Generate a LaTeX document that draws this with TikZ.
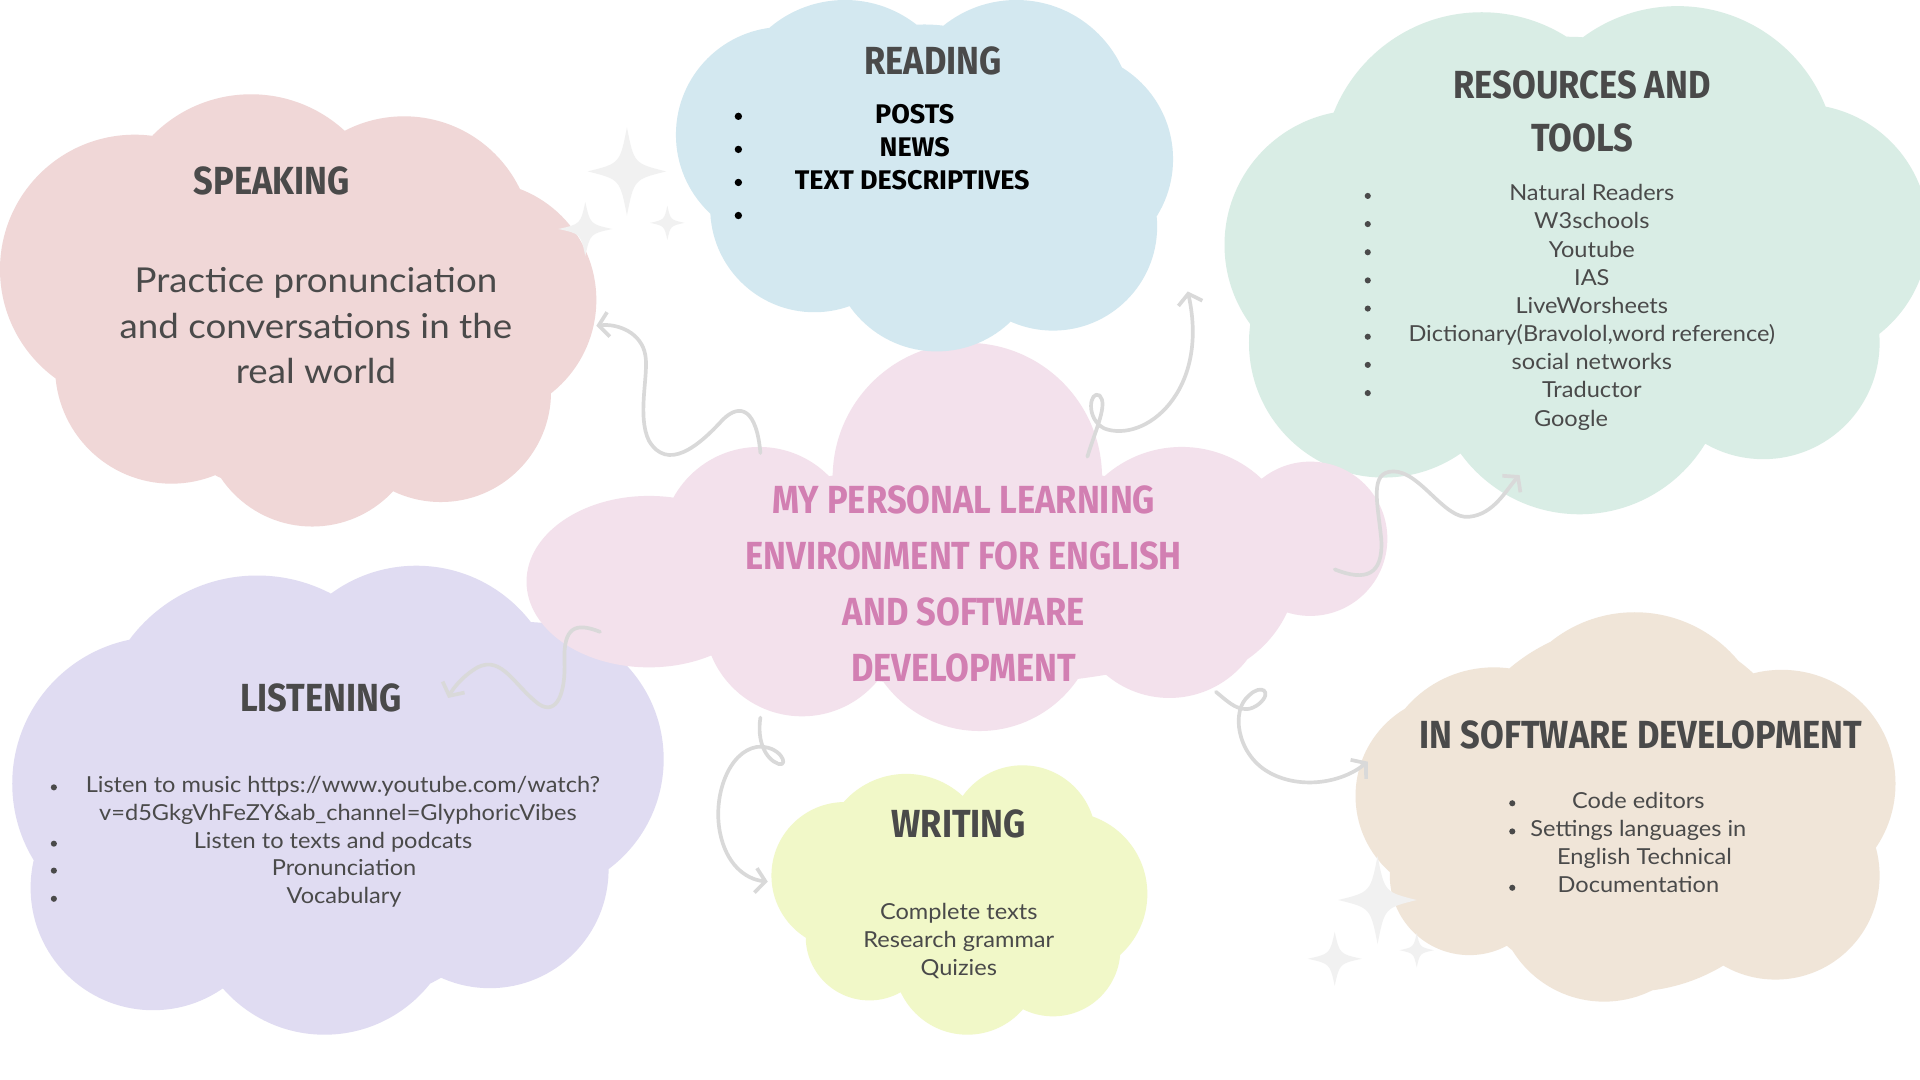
\documentclass[tikz,border=0pt]{standalone}
\usepackage{fontspec}
\setmainfont{Lato}
\newfontfamily\titlefont{Fira Sans}[FakeStretch=0.88]
\newfontfamily\itemfont{Fira Sans}
\newfontfamily\bodyfont{Lato}[FakeStretch=1.07]
\usetikzlibrary{arrows.meta}
\definecolor{speakc}{HTML}{F0D7D7}
\definecolor{readc}{HTML}{D3E8F0}
\definecolor{resc}{HTML}{D9EDE5}
\definecolor{centc}{HTML}{F3E1EC}
\definecolor{listc}{HTML}{E0DCF2}
\definecolor{writec}{HTML}{F1F8C8}
\definecolor{softc}{HTML}{F0E5D8}
\definecolor{centtxt}{HTML}{D27FB2}
\definecolor{txtgray}{HTML}{4A4A4A}
\definecolor{conngray}{HTML}{D9D9D9}
\definecolor{sparkc}{HTML}{F1F1F1}
\tikzset{
  ttl/.style={font=\titlefont\bfseries\fontsize{32}{44}\selectfont, text=txtgray, inner sep=0pt, align=center},
  centttl/.style={ttl, text=centtxt, font=\titlefont\bfseries\fontsize{32}{45.7}\selectfont},
  rditem/.style={font=\itemfont\bfseries\fontsize{22}{27}\selectfont, text=black, inner sep=0pt},
  body/.style={font=\bodyfont\fontsize{18}{23}\selectfont, text=txtgray, inner sep=0pt, text height=12pt, text depth=0pt},
  bigbody/.style={font=\bodyfont\fontsize{28}{37}\selectfont, text=txtgray, inner sep=0pt, align=center},
  bul/.style={circle, fill=txtgray, inner sep=0pt, minimum size=5pt},
  rdbul/.style={circle, fill=black, inner sep=0pt, minimum size=6pt},
  conn/.style={draw=conngray, line width=3pt, line cap=round, line join=round, -{Straight Barb[length=8pt,width=20pt]}},
  sparkle/.pic={\fill[sparkc] (0,-1) .. controls (0.18,-0.18) .. (1,0) .. controls (0.18,0.18) .. (0,1) .. controls (-0.18,0.18) .. (-1,0) .. controls (-0.18,-0.18) .. (0,-1) -- cycle;}
}
\begin{document}
\begin{tikzpicture}[x=1pt,y=-1pt]
\useasboundingbox (0,0) rectangle (1568,882);
\clip (0,0) rectangle (1568,882);
\fill[white] (0,0) rectangle (1568,882);

% resources cloud
\fill[resc] (1210,140) circle (130pt) (1370,135) circle (130pt) (1470,190) circle (105pt)
  (1440,280) circle (95pt) (1290,300) circle (120pt) (1130,280) circle (110pt)
  (1110,200) circle (110pt) (1280,210) circle (180pt);
% listening cloud
\fill[listc] (210,600) circle (130pt) (340,580) circle (118pt) (430,620) circle (112pt)
  (400,710) circle (97pt) (265,735) circle (110pt) (125,725) circle (100pt)
  (130,640) circle (120pt) (280,660) circle (160pt);
% speaking cloud
\fill[speakc] (205,190) circle (113pt) (330,200) circle (105pt) (390,245) circle (97pt)
  (360,320) circle (90pt) (255,340) circle (90pt) (140,300) circle (95pt)
  (110,220) circle (110pt) (245,255) circle (150pt);
% center cloud
\fill[centc] (790,390) circle (110pt) (965,460) circle (95pt) (1070,440) circle (63pt)
  (955,490) circle (80pt) (800,500) circle (97pt) (655,505) circle (80pt)
  (530,475) ellipse (100pt and 70pt) (620,445) circle (80pt) (790,470) ellipse (260pt and 90pt);
% reading cloud
\fill[readc] (690,95) circle (95pt) (830,95) circle (95pt) (870,130) circle (88pt)
  (860,185) circle (85pt) (765,200) circle (87pt) (665,170) circle (85pt)
  (640,110) circle (88pt) (755,140) circle (120pt);
% writing cloud
\fill[writec] (740,700) circle (68pt) (835,685) circle (60pt) (870,730) circle (67pt)
  (860,775) circle (55pt) (790,785) circle (60pt) (710,765) circle (52pt)
  (690,715) circle (60pt) (780,735) circle (85pt);
% software cloud
\fill[softc] (1335,610) circle (110pt) (1220,640) circle (95pt) (1455,640) circle (93pt)
  (1450,715) circle (85pt) (1310,730) circle (88pt) (1200,715) circle (65pt)
  (1190,650) circle (83pt) (1330,660) circle (150pt);

% sparkles
\pic[xscale=32,yscale=36] at (512,140) {sparkle};
\pic[scale=22] at (478,187) {sparkle};
\pic[scale=14] at (545,182) {sparkle};
\pic[xscale=32,yscale=36] at (1125,735) {sparkle};
\pic[scale=22] at (1090,783) {sparkle};
\pic[scale=14] at (1157,776) {sparkle};

% connectors
\coordinate (a1s) at (621,370); \coordinate (a1e) at (487,266);
\draw[conn] (a1s) .. controls (618,335) and (605,328) .. (590,343)
  .. controls (570,365) and (545,385) .. (530,360)
  .. controls (520,340) and (530,305) .. (527,290)
  .. controls (524,272) and (505,264) .. (a1e);
\coordinate (a2s) at (888,373); \coordinate (a2e) at (970,238);
\draw[conn] (a2s) .. controls (895,350) and (905,330) .. (898,323)
  .. controls (890,318) and (886,342) .. (902,350)
  .. controls (935,362) and (988,320) .. (a2e);
\coordinate (a3s) at (1090,465); \coordinate (a3e) at (1241,388);
\draw[conn] (a3s) .. controls (1115,475) and (1130,470) .. (1128,440)
  .. controls (1125,410) and (1118,385) .. (1138,385)
  .. controls (1160,385) and (1180,425) .. (1200,422)
  .. controls (1220,420) and (1230,400) .. (a3e);
\coordinate (a4s) at (490,516); \coordinate (a4e) at (366,570);
\draw[conn] (a4s) .. controls (470,508) and (460,512) .. (461,540)
  .. controls (462,565) and (455,585) .. (440,575)
  .. controls (420,560) and (410,535) .. (390,545)
  .. controls (378,552) and (370,562) .. (a4e);
\coordinate (a5s) at (621,586); \coordinate (a5e) at (627,720);
\draw[conn] (a5s) .. controls (618,605) and (625,620) .. (636,624)
  .. controls (645,626) and (637,608) .. (618,610)
  .. controls (595,614) and (582,650) .. (588,680)
  .. controls (593,705) and (608,718) .. (a5e);
\coordinate (a6s) at (993,565); \coordinate (a6e) at (1117,622);
\draw[conn] (a6s) .. controls (1005,575) and (1015,585) .. (1028,575)
  .. controls (1040,565) and (1030,558) .. (1020,568)
  .. controls (1005,580) and (1010,615) .. (1035,630)
  .. controls (1060,645) and (1095,640) .. (a6e);

% speaking text
\node[ttl] (spktitle) at (222,148) {SPEAKING};
\node[bigbody] (spkbody) at (258,266) {Practice pronunciation\\and conversations in the\\real world};

% reading text
\node[ttl] (rdtitle) at (762,50) {READING};
\node[rdbul] (rdb1) at (603,95) {};
\node[rdbul] (rdb2) at (603,122) {};
\node[rdbul] (rdb3) at (603,149) {};
\node[rdbul] (rdb4) at (603,176) {};
\node[rditem] (rd1) at (747,93) {POSTS};
\node[rditem] (rd2) at (747,120) {NEWS};
\node[rditem] (rd3) at (745,147) {TEXT DESCRIPTIVES};

% resources text
\node[ttl] (restitle) at (1292,91) {RESOURCES AND\\TOOLS};
\foreach \yy [count=\i] in {158,181,204,227,250,273,296,319} {
  \node[bul] (resb\i) at (1117,\yy+2) {};
}
\node[body] (res1) at (1300,158) {Natural Readers};
\node[body] (res2) at (1300,181) {W3schools};
\node[body] (res3) at (1300,204) {Youtube};
\node[body] (res4) at (1300,227) {IAS};
\node[body] (res5) at (1300,250) {LiveWorsheets};
\node[body] (res6) at (1300,273) {Dictionary(Bravolol,word reference)};
\node[body] (res7) at (1300,296) {social networks};
\node[body] (res8) at (1300,319) {Traductor};
\node[body] (res9) at (1283,342) {Google};

% center text
\node[centttl] (centtitle) at (787,477) {MY PERSONAL LEARNING\\ENVIRONMENT FOR ENGLISH\\AND SOFTWARE\\DEVELOPMENT};

% listening text
\node[ttl] (lsttitle) at (262,570) {LISTENING};
\node[bul] (lstb1) at (44,643) {};
\node[bul] (lstb2) at (44,689) {};
\node[bul] (lstb3) at (44,711) {};
\node[bul] (lstb4) at (44,734) {};
\node[body] (lst1) at (280,641) {Listen to music https://www.youtube.com/watch?};
\node[body] (lst1b) at (276,664) {v=d5GkgVhFeZY\&ab\_channel=GlyphoricVibes};
\node[body] (lst2) at (272,687) {Listen to texts and podcats};
\node[body] (lst3) at (281,709) {Pronunciation};
\node[body] (lst4) at (281,732) {Vocabulary};

% writing text
\node[ttl] (wrtitle) at (783,673) {WRITING};
\node[body] (wr1) at (783,745) {Complete texts};
\node[body] (wr2) at (783,768) {Research grammar};
\node[body] (wr3) at (783,791) {Quizies};

% software text
\node[ttl] (swtitle) at (1340,600) {IN SOFTWARE DEVELOPMENT};
\node[bul] (swb1) at (1235,656) {};
\node[bul] (swb2) at (1235,679) {};
\node[bul] (swb3) at (1235,725) {};
\node[body] (sw1) at (1338,654) {Code editors};
\node[body] (sw2) at (1338,677) {Settings languages in};
\node[body] (sw2b) at (1343,700) {English Technical};
\node[body] (sw3) at (1338,723) {Documentation};
\end{tikzpicture}
\end{document}
